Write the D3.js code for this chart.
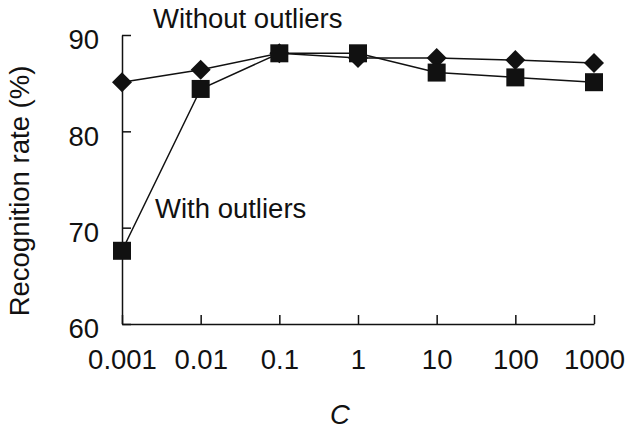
<!DOCTYPE html>
<html>
<head>
<meta charset="utf-8">
<script src="https://cdn.jsdelivr.net/npm/d3@7"></script>
<style>
  body { margin: 0; background: #fff; }
  text { font-family: "Liberation Sans", Arial, sans-serif; fill: #111; }
</style>
</head>
<body>
<div id="container"></div>
<script>
var categories = ["0.001", "0.01", "0.1", "1", "10", "100", "1000"];
var withoutOutliers = [85.1, 86.4, 88.1, 87.6, 87.6, 87.4, 87.1];
var withOutliers = [67.6, 84.4, 88.1, 88.1, 86.1, 85.6, 85.1];
var yTicks = [60, 70, 80, 90];

var width = 631, height = 429;
var fs = 27.5;

var svg = d3.select("#container").append("svg")
    .attr("width", width)
    .attr("height", height);

var x = d3.scalePoint().domain(categories).range([122, 594]);
var y = d3.scaleLinear().domain([60, 90]).range([324, 35]);

// axes, ticks point inward
var xAxis = svg.append("g")
    .attr("transform", "translate(0,324)")
    .call(d3.axisBottom(x).tickSize(-9).tickSizeOuter(0).tickPadding(0));
xAxis.selectAll("text").attr("dy", "1.65em").style("font-size", fs + "px");

var yAxis = svg.append("g")
    .attr("transform", "translate(122,0)")
    .call(d3.axisLeft(y).tickValues(yTicks).tickSize(-9).tickSizeOuter(0).tickPadding(23));
yAxis.selectAll("text").attr("dy", "0.5em").style("font-size", fs + "px");

svg.selectAll(".domain, .tick line").attr("stroke", "#111").attr("stroke-width", 1.5);
svg.selectAll(".tick text").attr("fill", "#111");

var line = d3.line()
    .x(function(d, i) { return x(categories[i]); })
    .y(function(d) { return y(d); });

// Without outliers - diamonds
svg.append("path").datum(withoutOutliers)
    .attr("d", line).attr("fill", "none").attr("stroke", "#111").attr("stroke-width", 1.5);
svg.append("g").selectAll("path").data(withoutOutliers).enter().append("path")
    .attr("d", "M0,-10L10,0L0,10L-10,0Z")
    .attr("transform", function(d, i) { return "translate(" + x(categories[i]) + "," + y(d) + ")"; })
    .attr("fill", "#111");

// With outliers - squares
svg.append("path").datum(withOutliers)
    .attr("d", line).attr("fill", "none").attr("stroke", "#111").attr("stroke-width", 1.5);
svg.append("g").selectAll("rect").data(withOutliers).enter().append("rect")
    .attr("x", function(d, i) { return x(categories[i]) - 9; })
    .attr("y", function(d) { return y(d) - 9; })
    .attr("width", 18).attr("height", 18)
    .attr("fill", "#111");

// labels
svg.append("text").attr("x", 153).attr("y", 28).style("font-size", fs + "px").text("Without outliers");
svg.append("text").attr("x", 155).attr("y", 218).style("font-size", fs + "px").text("With outliers");

svg.append("text")
    .attr("transform", "translate(29,191) rotate(-90)")
    .attr("text-anchor", "middle")
    .style("font-size", fs + "px")
    .text("Recognition rate (%)");

svg.append("text")
    .attr("x", 340).attr("y", 424)
    .attr("text-anchor", "middle")
    .style("font-size", fs + "px")
    .style("font-style", "italic")
    .text("C");
</script>
</body>
</html>
